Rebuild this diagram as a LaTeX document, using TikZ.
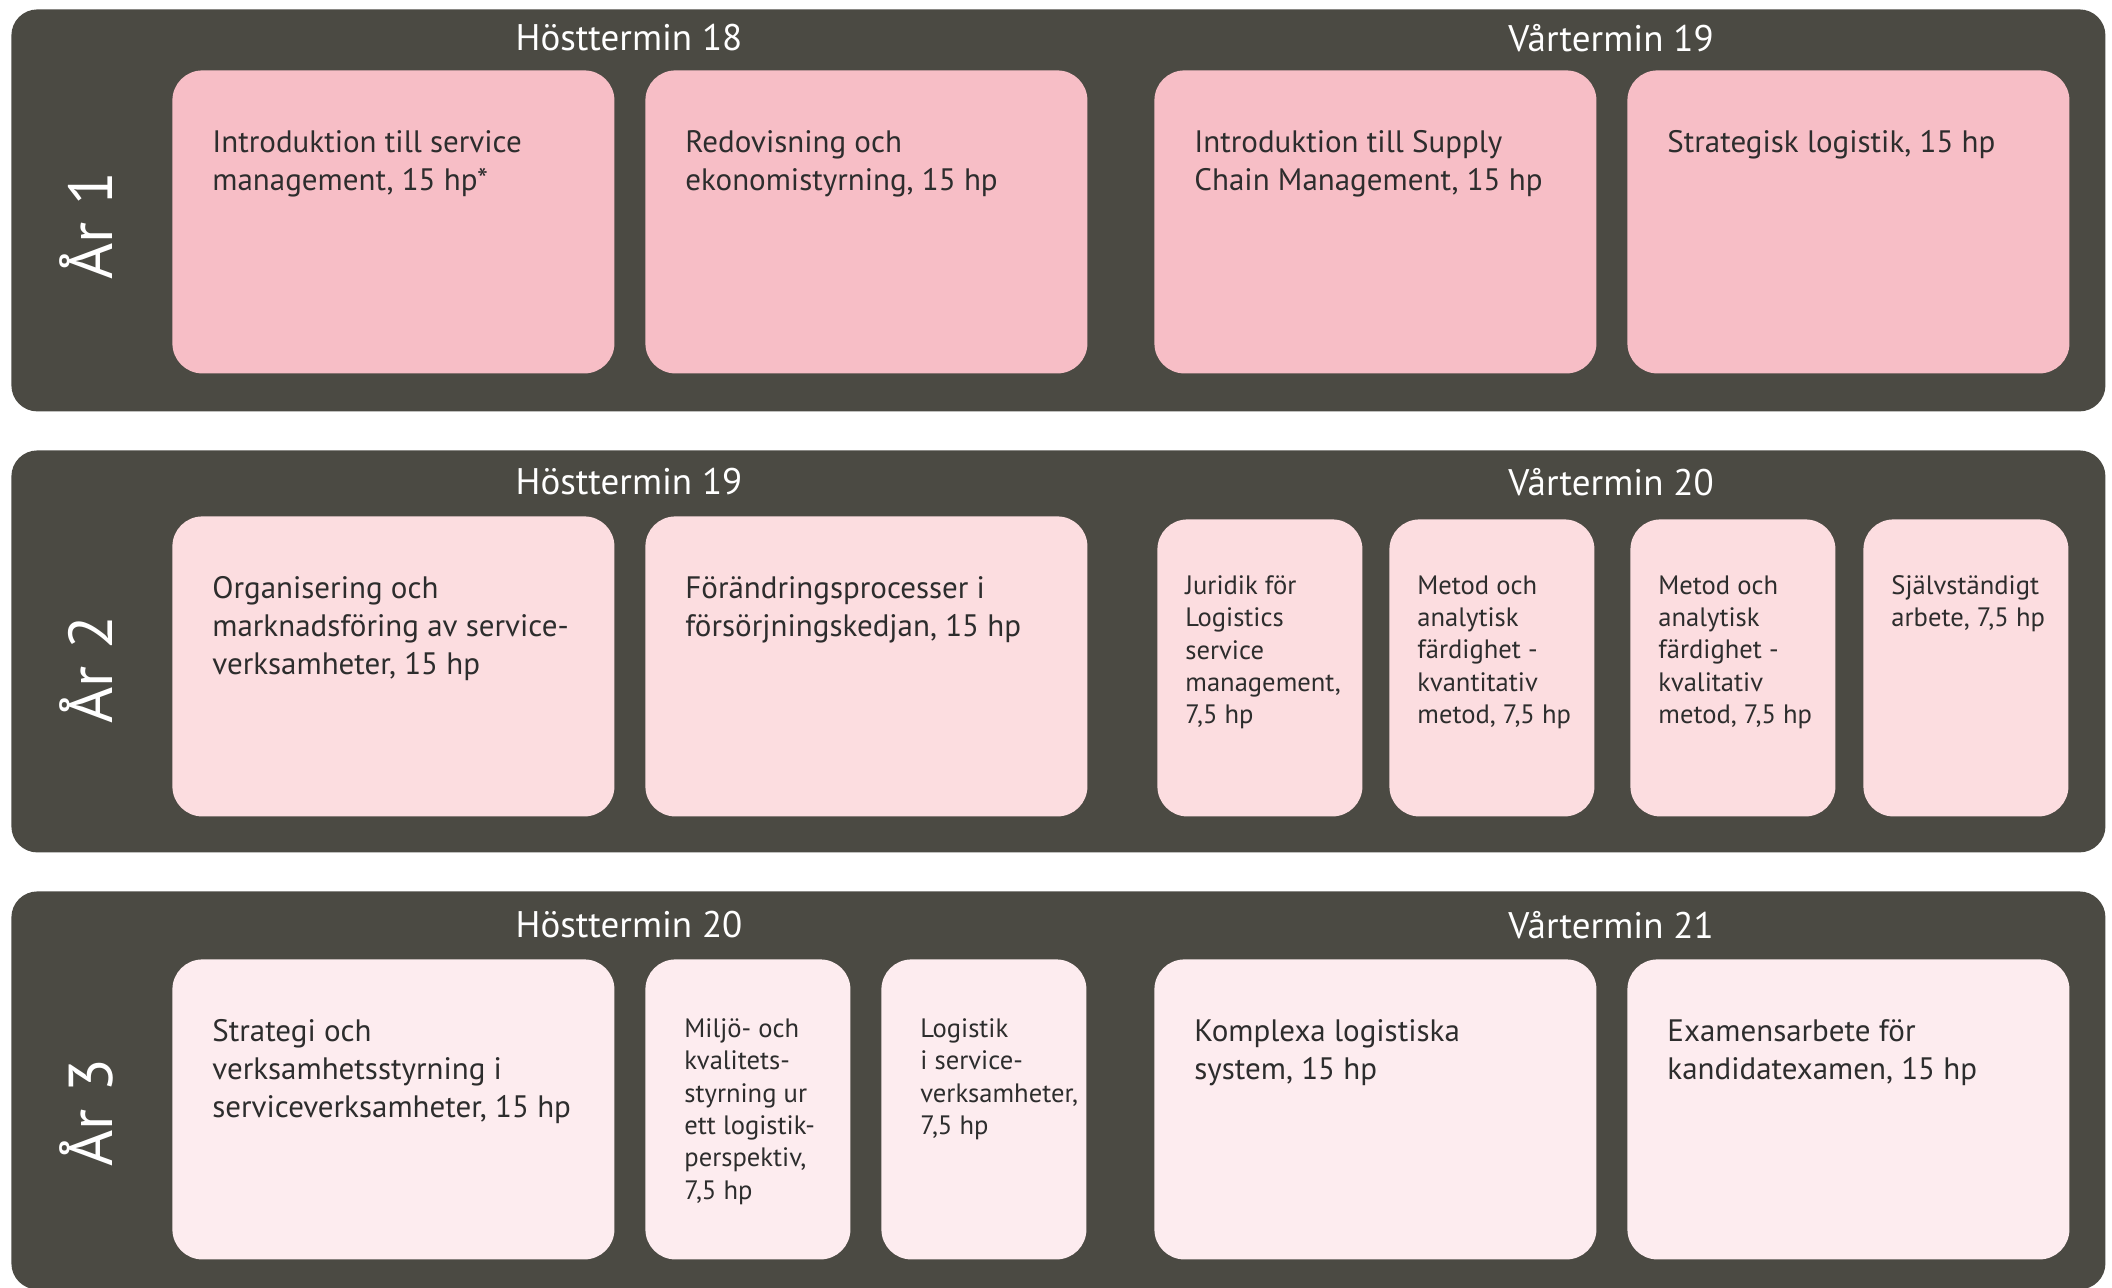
\documentclass[tikz,border=0pt]{standalone}
\usepackage{fontspec}
\setmainfont{PT Sans}
\usetikzlibrary{positioning,calc}
\definecolor{bandgrey}{RGB}{75,74,67}
\definecolor{pinkone}{RGB}{247,190,198}
\definecolor{pinktwo}{RGB}{252,221,224}
\definecolor{pinkthree}{RGB}{253,236,239}
\definecolor{coursegrey}{RGB}{45,45,45}
\tikzset{
  band/.style={fill=bandgrey, rounded corners=13pt, anchor=north west, inner sep=0pt, minimum width=1047pt, minimum height=201pt},
  term/.style={text=white, font=\fontsize{18.5}{22}\selectfont},
  year/.style={text=white, rotate=90, font=\fontsize{31}{36}\selectfont},
  bigbox/.style={rounded corners=15pt, anchor=north west, inner sep=0pt, minimum width=221pt, minimum height=150pt},
  smallbox/.style={rounded corners=15pt, anchor=north west, inner sep=0pt, minimum width=102.5pt, minimum height=149pt},
  bigtext/.style={anchor=north west, inner sep=0pt, align=left, text=coursegrey, font=\fontsize{15.5}{19}\selectfont},
  smalltext/.style={anchor=north west, inner sep=0pt, align=left, text=coursegrey, font=\fontsize{13.3}{16.2}\selectfont}
}
\begin{document}
\begin{tikzpicture}[x=0.5pt,y=-0.5pt]
\useasboundingbox (0,0) rectangle (2112,1287);

% year bands
\node[band] (b1) at (11,9) {};
\node[band] (b2) at (11,450) {};
\node[band, minimum height=199pt] (b3) at (11,891) {};

\node[term] (h1) at (629,38) {Hösttermin 18};
\node[term] (v1) at (1611,38) {Vårtermin 19};
\node[term] (h2) at (629,482) {Hösttermin 19};
\node[term] (v2) at (1611,482) {Vårtermin 20};
\node[term] (h3) at (629,925) {Hösttermin 20};
\node[term] (v3) at (1611,925) {Vårtermin 21};

\node[year] (y1) at (86,226) {År 1};
\node[year] (y2) at (86,670) {År 2};
\node[year] (y3) at (86,1113) {År 3};

% year 1
\node[bigbox, fill=pinkone, minimum height=151.5pt] (c11) at (172,70) {};
\node[bigbox, fill=pinkone, minimum height=151.5pt] (c12) at (645,70) {};
\node[bigbox, fill=pinkone, minimum height=151.5pt] (c13) at (1154,70) {};
\node[bigbox, fill=pinkone, minimum height=151.5pt] (c14) at (1627,70) {};
\node[bigtext] (t11) at ([shift={(20pt,-30pt)}]c11.north west) {Introduktion till service\\management, 15 hp*};
\node[bigtext] (t12) at ([shift={(20pt,-30pt)}]c12.north west) {Redovisning och\\ekonomistyrning, 15 hp};
\node[bigtext] (t13) at ([shift={(20pt,-30pt)}]c13.north west) {Introduktion till Supply\\Chain Management, 15 hp};
\node[bigtext] (t14) at ([shift={(20pt,-30pt)}]c14.north west) {Strategisk logistik, 15 hp};

% year 2
\node[bigbox, fill=pinktwo] (c21) at (172,516) {};
\node[bigbox, fill=pinktwo] (c22) at (645,516) {};
\node[smallbox, fill=pinktwo, minimum height=148.5pt] (c23) at (1157,519) {};
\node[smallbox, fill=pinktwo, minimum height=148.5pt] (c24) at (1389,519) {};
\node[smallbox, fill=pinktwo, minimum height=148.5pt] (c25) at (1630,519) {};
\node[smallbox, fill=pinktwo, minimum height=148.5pt] (c26) at (1863,519) {};
\node[bigtext] (t21) at ([shift={(20pt,-30pt)}]c21.north west) {Organisering och\\marknadsföring av service-\\verksamheter, 15 hp};
\node[bigtext] (t22) at ([shift={(20pt,-30pt)}]c22.north west) {Förändringsprocesser i\\försörjningskedjan, 15 hp};
\node[smalltext] (t23) at ([shift={(14pt,-28pt)}]c23.north west) {Juridik för\\Logistics\\service\\management,\\7,5 hp};
\node[smalltext] (t24) at ([shift={(14pt,-28pt)}]c24.north west) {Metod och\\analytisk\\färdighet -\\kvantitativ\\metod, 7,5 hp};
\node[smalltext] (t25) at ([shift={(14pt,-28pt)}]c25.north west) {Metod och\\analytisk\\färdighet -\\kvalitativ\\metod, 7,5 hp};
\node[smalltext] (t26) at ([shift={(14pt,-28pt)}]c26.north west) {Självständigt\\arbete, 7,5 hp};

% year 3
\node[bigbox, fill=pinkthree] (c31) at (172,959) {};
\node[smallbox, fill=pinkthree, minimum height=150pt] (c32) at (645,959) {};
\node[smallbox, fill=pinkthree, minimum height=150pt] (c33) at (881,959) {};
\node[bigbox, fill=pinkthree] (c34) at (1154,959) {};
\node[bigbox, fill=pinkthree] (c35) at (1627,959) {};
\node[bigtext] (t31) at ([shift={(20pt,-30pt)}]c31.north west) {Strategi och\\verksamhetsstyrning i\\serviceverksamheter, 15 hp};
\node[smalltext] (t32) at ([shift={(19.5pt,-29.5pt)}]c32.north west) {Miljö- och\\kvalitets-\\styrning ur\\ett logistik-\\perspektiv,\\7,5 hp};
\node[smalltext] (t33) at ([shift={(19.5pt,-29.5pt)}]c33.north west) {Logistik\\i service-\\verksamheter,\\7,5 hp};
\node[bigtext] (t34) at ([shift={(20pt,-30pt)}]c34.north west) {Komplexa logistiska\\system, 15 hp};
\node[bigtext] (t35) at ([shift={(20pt,-30pt)}]c35.north west) {Examensarbete för\\kandidatexamen, 15 hp};
\end{tikzpicture}
\end{document}
